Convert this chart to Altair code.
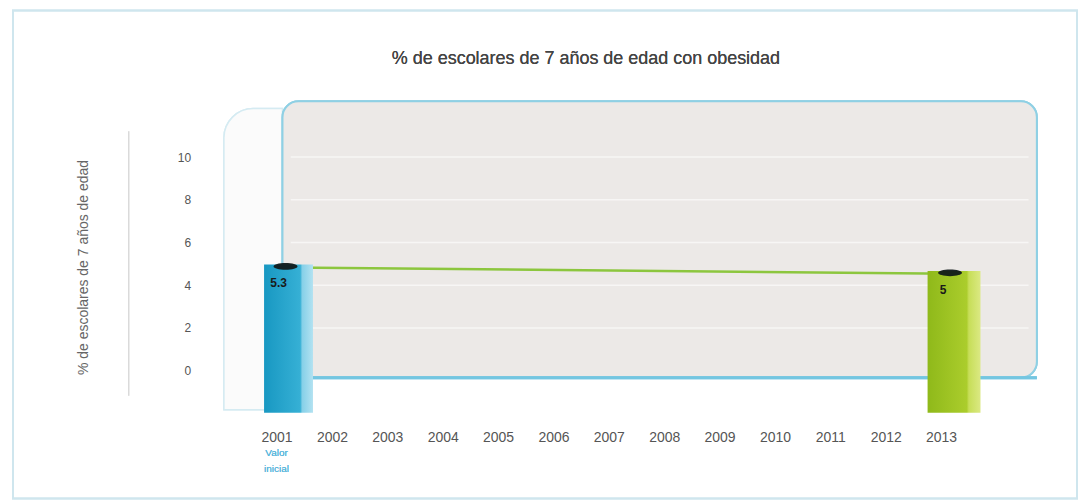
import altair as alt
import pandas as pd

# ---- data ----
years = list(range(2001, 2014))
bar_years = [2001, 2013]
bar_values = [5.3, 5.0]
bar_labels = ["5.3", "5"]
y_ticks = [0, 2, 4, 6, 8, 10]
grid_ticks = [2, 4, 6, 8, 10]
title_text = "% de escolares de 7 años de edad con obesidad"
y_title = "% de escolares de 7 años de edad"
base_note = "Valor\ninicial"

bars = pd.DataFrame({"year": bar_years, "value": bar_values, "label": bar_labels})
grid = pd.DataFrame({"v": grid_ticks})

X_MIN, X_MAX = 2000.17, 2014.77
Y_MIN, Y_MAX = -1.64, 12.94
PANEL_L, PANEL_R = 2001.107, 2014.73

xs = alt.Scale(domain=[X_MIN, X_MAX], nice=False, zero=False, padding=0)
ys = alt.Scale(domain=[Y_MIN, Y_MAX], nice=False, zero=False, padding=0)

x_axis = alt.Axis(values=years, format="d", title=None, ticks=False, domain=False,
                  grid=False, labelPadding=18, labelFontSize=14, labelColor="#555555",
                  labelFont="Liberation Sans", labelFontWeight="normal")
y_axis = alt.Axis(values=y_ticks, title=y_title, ticks=False, domain=False, grid=False,
                  tickOffset=-7, labelPadding=40, labelFontSize=12, labelColor="#555555",
                  labelFont="Liberation Sans", labelFontWeight="normal",
                  titleFont="Liberation Sans", titleFontSize=14, titleFontWeight="normal",
                  titleColor="#666666", titlePadding=87, titleY=166)

base = alt.Chart(bars)

frame = alt.Chart(bars).mark_rect(fill="transparent", stroke="#cfe6ee", strokeWidth=2).encode(
    x=alt.value(-218), x2=alt.value(848), y=alt.value(-91), y2=alt.value(398))

title = alt.Chart(bars).mark_text(fontSize=18, font="Liberation Sans", color="#444444",
                                  baseline="middle").encode(
    x=alt.value(356), y=alt.value(-42), text=alt.value(title_text))

sep = alt.Chart(bars).mark_rule(color="#d8d8d8", strokeWidth=1).encode(
    x=alt.value(-102), y=alt.value(30), y2=alt.value(295))

left_wall = alt.Chart(bars).mark_rect(fill="#fbfbfb", stroke="#d5ebf2", strokeWidth=1.5,
                                      cornerRadiusTopLeft=45).encode(
    x=alt.datum(2000.05, scale=xs), x2=alt.datum(PANEL_L),
    y=alt.datum(12.6, scale=ys), y2=alt.datum(-1.5))

panel = alt.Chart(bars).mark_rect(fill="#ece9e7", stroke="#8fd0e4", strokeWidth=2,
                                  cornerRadius=16).encode(
    x=alt.datum(PANEL_L, scale=xs), x2=alt.datum(PANEL_R),
    y=alt.datum(Y_MAX, scale=ys), y2=alt.datum(0))

grid_rules = alt.Chart(grid).mark_rule(color="#f7f6f5", strokeWidth=1.5, yOffset=-7).encode(
    y=alt.Y("v:Q", scale=ys, axis=y_axis),
    x=alt.datum(PANEL_L + 0.15, scale=xs, axis=x_axis), x2=alt.datum(PANEL_R - 0.15))

floor = alt.Chart(bars).mark_rule(color="#74c6e1", strokeWidth=3).encode(
    y=alt.datum(0, scale=ys), x=alt.datum(PANEL_L, scale=xs), x2=alt.datum(PANEL_R))

line = base.mark_line(color="#8cc63e", strokeWidth=2.5, xOffset=12, yOffset=3).encode(
    x=alt.X("year:Q", scale=xs), y=alt.Y("value:Q", scale=ys))

blue_grad = alt.Gradient(gradient="linear", x1=0, x2=1, y1=0, y2=0, stops=[
    alt.GradientStop(color="#1898c2", offset=0),
    alt.GradientStop(color="#36b0d5", offset=0.74),
    alt.GradientStop(color="#86d0e8", offset=0.78),
    alt.GradientStop(color="#b3e2f1", offset=1)])
green_grad = alt.Gradient(gradient="linear", x1=0, x2=1, y1=0, y2=0, stops=[
    alt.GradientStop(color="#8fb91a", offset=0),
    alt.GradientStop(color="#abcd2c", offset=0.74),
    alt.GradientStop(color="#c7de58", offset=0.78),
    alt.GradientStop(color="#dbe983", offset=1)])

bar_enc = dict(x=alt.X("year:Q", scale=xs), y=alt.Y("value:Q", scale=ys), y2=alt.datum(Y_MIN))
bar_blue = base.mark_bar(color=blue_grad, size=49, xOffset=12).encode(**bar_enc).transform_filter(
    alt.datum.year == 2001)
bar_green = base.mark_bar(color=green_grad, size=53, xOffset=13).encode(**bar_enc).transform_filter(
    alt.datum.year == 2013)

ellipse = "M-1,0 A1,0.28 0 1,0 1,0 A1,0.28 0 1,0 -1,0 Z"
tops = base.mark_point(shape=ellipse, filled=True, color="#111a1a", opacity=0.95, size=576,
                       xOffset=9, yOffset=2).encode(
    x=alt.X("year:Q", scale=xs), y=alt.Y("value:Q", scale=ys))

labels = base.mark_text(color="#1a1a1a", fontSize=12, fontWeight="bold", font="Liberation Sans",
                        dy=19, dx=2).encode(
    x=alt.X("year:Q", scale=xs), y=alt.Y("value:Q", scale=ys), text="label:N")

note = alt.Chart(bars).mark_text(color="#5ab7dc", fontSize=10, font="Liberation Sans",
                                 lineBreak="\n", baseline="middle", lineHeight=16).encode(
    x=alt.datum(2001, scale=xs), y=alt.value(352), text=alt.value(base_note))

chart = alt.layer(
    frame, title, sep, left_wall, panel, grid_rules, floor, line, bar_blue, bar_green, tops,
    labels, note
).properties(
    width=810, height=312,
    padding={"left": 4, "top": 1, "right": 0, "bottom": 0},
    background="white",
).configure_view(stroke=None)

chart.save("out.html", embed_options={"renderer": "svg", "actions": False})
